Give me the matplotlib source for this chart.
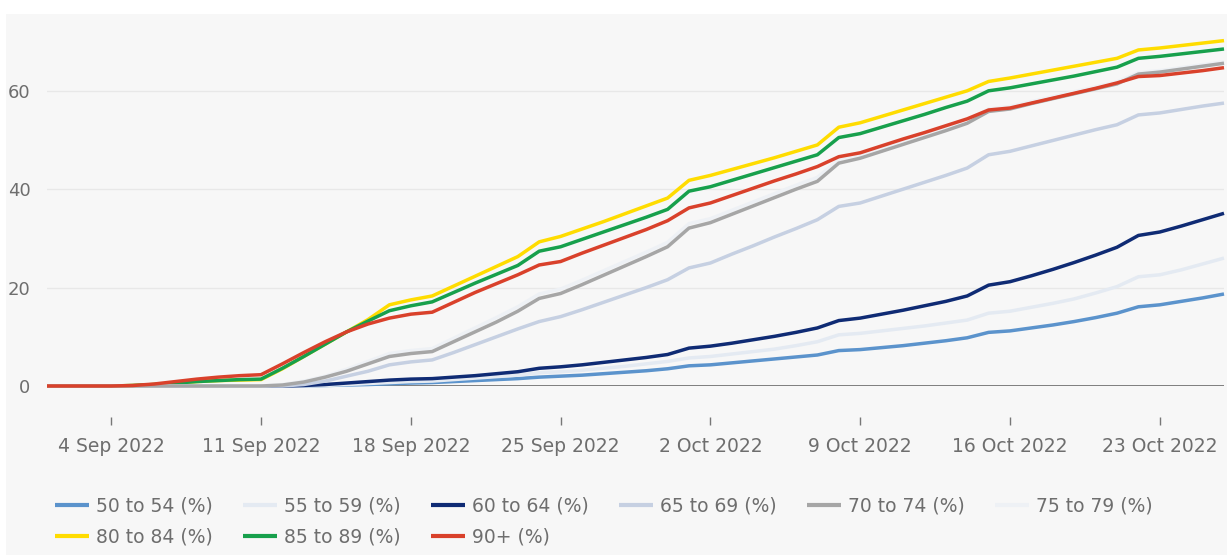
import numpy as np
import pandas as pd
import matplotlib
matplotlib.use("Agg")
import matplotlib.pyplot as plt
from matplotlib.patches import Rectangle

# daily dates, 1 Sep 2022 - 26 Oct 2022
dates = pd.date_range("2022-09-01", "2022-10-26", freq="D")

age_50_54 = [0.0] * 13 + [0.1, 0.2, 0.3, 0.45, 0.6, 0.7, 0.9, 1.1, 1.3, 1.5, 1.8, 2.0,
                          2.2, 2.5, 2.8, 3.1, 3.5, 4.1, 4.3, 4.7, 5.1, 5.5, 5.9, 6.3,
                          7.2, 7.4, 7.8, 8.2, 8.7, 9.2, 9.8, 10.9, 11.2, 11.8, 12.4,
                          13.1, 13.9, 14.8, 16.1, 16.5, 17.2, 17.9, 18.7]
age_55_59 = [0.0] * 13 + [0.1, 0.3, 0.5, 0.7, 0.9, 1.0, 1.3, 1.6, 1.9, 2.2, 2.7, 2.9,
                          3.2, 3.6, 4.0, 4.5, 5.0, 5.7, 6.0, 6.5, 7.0, 7.5, 8.2, 9.0,
                          10.4, 10.7, 11.2, 11.7, 12.2, 12.8, 13.4, 14.8, 15.2, 16.0,
                          16.8, 17.7, 18.9, 20.2, 22.2, 22.6, 23.6, 24.8, 26.0]
age_60_64 = [0.0] * 12 + [0.1, 0.3, 0.6, 0.9, 1.2, 1.4, 1.5, 1.8, 2.1, 2.5, 2.9, 3.6,
                          3.9, 4.3, 4.8, 5.3, 5.8, 6.4, 7.7, 8.1, 8.7, 9.4, 10.1, 10.9,
                          11.8, 13.3, 13.8, 14.6, 15.4, 16.3, 17.2, 18.3, 20.5, 21.2,
                          22.4, 23.7, 25.1, 26.6, 28.2, 30.6, 31.3, 32.5, 33.8, 35.1]
age_65_69 = [0.0] * 12 + [0.3, 1.0, 2.0, 3.0, 4.3, 4.9, 5.3, 6.8, 8.4, 10.0, 11.6, 13.1,
                          14.1, 15.5, 17.0, 18.5, 20.0, 21.6, 24.0, 25.0, 26.8, 28.5,
                          30.3, 32.0, 33.8, 36.5, 37.2, 38.6, 40.0, 41.4, 42.8, 44.3,
                          47.0, 47.7, 48.8, 49.9, 51.0, 52.1, 53.1, 55.1, 55.5, 56.2,
                          56.9, 57.5]
age_70_74 = [0.0] * 11 + [0.2, 0.8, 1.8, 3.0, 4.5, 6.0, 6.6, 7.0, 9.0, 11.0, 13.0, 15.2,
                          17.8, 18.8, 20.6, 22.5, 24.4, 26.3, 28.3, 32.1, 33.2, 34.9,
                          36.6, 38.3, 40.0, 41.6, 45.3, 46.3, 47.7, 49.1, 50.5, 51.9,
                          53.4, 55.8, 56.3, 57.4, 58.4, 59.4, 60.4, 61.4, 63.4, 63.8,
                          64.4, 65.0, 65.6]
age_75_79 = [0.0] * 11 + [0.3, 1.0, 2.0, 3.4, 5.0, 6.6, 7.2, 7.6, 9.7, 11.8, 13.9, 16.1,
                          18.7, 19.7, 21.5, 23.4, 25.3, 27.2, 29.2, 33.0, 34.0, 35.7,
                          37.4, 39.1, 40.8, 42.4, 46.0, 46.9, 48.3, 49.7, 51.1, 52.5,
                          54.0, 56.3, 56.8, 57.8, 58.8, 59.8, 60.8, 61.8, 63.7, 64.1,
                          64.7, 65.3, 65.9]
age_80_84 = [0.0, 0.0, 0.0, 0.0, 0.1, 0.3, 0.6, 0.9, 1.1, 1.2, 1.3, 3.5, 6.0, 8.5, 11.0,
             13.5, 16.5, 17.5, 18.3, 20.3, 22.3, 24.3, 26.3, 29.3, 30.4, 31.9, 33.4,
             35.0, 36.6, 38.2, 41.8, 42.8, 44.0, 45.2, 46.4, 47.7, 49.0, 52.6, 53.5,
             54.8, 56.1, 57.4, 58.7, 60.0, 61.9, 62.6, 63.4, 64.2, 65.0, 65.8, 66.6,
             68.3, 68.7, 69.2, 69.7, 70.2]
age_85_89 = [0.0, 0.0, 0.0, 0.0, 0.1, 0.3, 0.6, 0.9, 1.1, 1.3, 1.4, 3.6, 6.0, 8.5, 11.0,
             13.2, 15.3, 16.3, 17.1, 19.0, 20.9, 22.7, 24.5, 27.4, 28.3, 29.8, 31.3,
             32.8, 34.3, 35.9, 39.6, 40.5, 41.8, 43.1, 44.4, 45.7, 47.0, 50.5, 51.3,
             52.6, 53.9, 55.2, 56.6, 57.9, 60.0, 60.6, 61.4, 62.2, 63.0, 63.9, 64.8,
             66.6, 67.0, 67.5, 68.0, 68.5]
age_90_plus = [0.0, 0.0, 0.0, 0.0, 0.1, 0.4, 0.9, 1.4, 1.8, 2.1, 2.3, 4.5, 6.8, 9.0, 11.0,
               12.6, 13.8, 14.6, 15.0, 17.0, 19.0, 20.8, 22.6, 24.6, 25.3, 27.0, 28.6,
               30.2, 31.8, 33.6, 36.2, 37.2, 38.7, 40.2, 41.7, 43.1, 44.6, 46.6, 47.4,
               48.8, 50.2, 51.5, 52.9, 54.3, 56.1, 56.5, 57.5, 58.5, 59.5, 60.5, 61.6,
               62.9, 63.1, 63.6, 64.1, 64.7]

labels = ["50 to 54 (%)", "55 to 59 (%)", "60 to 64 (%)", "65 to 69 (%)", "70 to 74 (%)",
          "75 to 79 (%)", "80 to 84 (%)", "85 to 89 (%)", "90+ (%)"]
series = [age_50_54, age_55_59, age_60_64, age_65_69, age_70_74,
          age_75_79, age_80_84, age_85_89, age_90_plus]
colors = ["#5b93cc", "#e4eaf2", "#0f2b74", "#c6d0e2", "#a6a6a6",
          "#eef1f5", "#ffdc00", "#17a04c", "#d9412b"]
# the near-white 75-79 line sits underneath the grey one
zorders = [3, 3, 3, 3, 3.2, 3.1, 3, 3, 3.3]

bg = "#f7f7f7"
txt = "#6e6e6e"

fig = plt.figure(figsize=(12.27, 5.55), dpi=100, facecolor=bg)
# white strips at top and left edge of the image
fig.patches.append(Rectangle((0, 1 - 14 / 555), 1, 14 / 555, transform=fig.transFigure,
                             facecolor="white", edgecolor="none", zorder=-10))
fig.patches.append(Rectangle((0, 0), 6 / 1227, 1, transform=fig.transFigure,
                             facecolor="white", edgecolor="none", zorder=-10))

ax = fig.add_axes([47 / 1227, (555 - 386) / 555, (1224 - 47) / 1227, (386 - 17) / 555])
ax.set_facecolor(bg)

handles = []
for vals, lab, c, zo in zip(series, labels, colors, zorders):
    h, = ax.plot(dates, vals, color=c, lw=2.5, label=lab, clip_on=False,
                 solid_joinstyle="round", solid_capstyle="butt", zorder=zo)
    handles.append(h)

ax.set_xlim(dates[0], dates[-1])
ax.set_ylim(0, 75)
ax.set_yticks([0, 20, 40, 60])
ax.grid(axis="y", color="#e8e8e8", lw=1.0)
ax.set_axisbelow(True)
ax.axhline(0, color="#5f5f5f", lw=1.1, zorder=2)

for s in ax.spines.values():
    s.set_visible(False)
ax.spines["bottom"].set_position(("outward", 22))

ticks = pd.date_range("2022-09-04", "2022-10-23", freq="7D")
ax.set_xticks(ticks)
ax.set_xticklabels([f"{d.day} {d.strftime('%b')} 2022" for d in ticks])
ax.tick_params(axis="x", length=6, width=1.0, color="#777777", pad=9,
               labelsize=13.5, labelcolor=txt)
ax.tick_params(axis="y", length=0, pad=12, labelsize=13, labelcolor=txt)

# legend filled row by row (matplotlib fills columns)
order = [0, 6, 1, 7, 2, 8, 3, 4, 5]
leg = fig.legend([handles[i] for i in order], [labels[i] for i in order],
                 loc="upper left", bbox_to_anchor=(55 / 1227, 1 - 497 / 555),
                 ncol=6, frameon=False, fontsize=13.5, handlelength=1.8,
                 handletextpad=0.4, columnspacing=1.6, labelspacing=0.6,
                 borderpad=0, borderaxespad=0)
for t in leg.get_texts():
    t.set_color(txt)
for lh in leg.get_lines():
    lh.set_linewidth(3)

fig.savefig("out.png", dpi=100, facecolor=bg)
